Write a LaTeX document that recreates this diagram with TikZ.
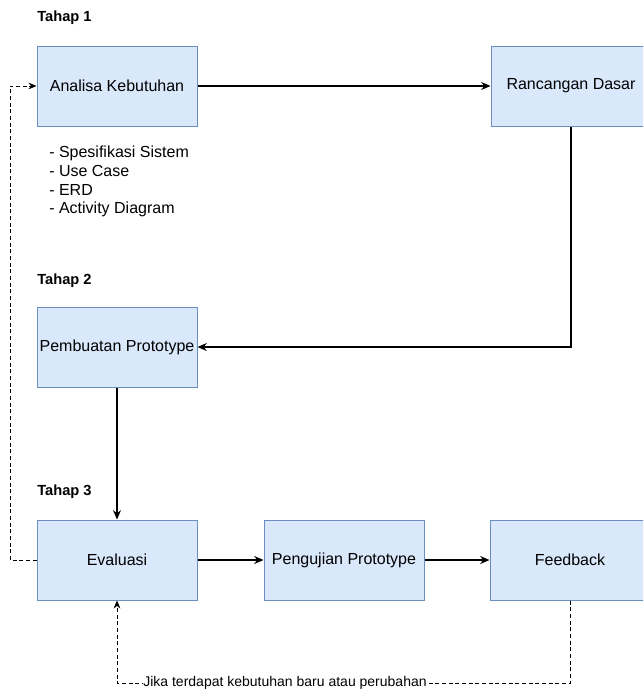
\documentclass[tikz,border=0pt]{standalone}
\usepackage{fontspec}
\setmainfont{Liberation Sans}
\usetikzlibrary{arrows.meta}
\definecolor{boxfill}{HTML}{DAE8FC}
\definecolor{boxdraw}{HTML}{6C8EBF}
\begin{document}
\begin{tikzpicture}[x=0.75pt,y=-0.75pt,
  stepbox/.style={draw=boxdraw, fill=boxfill, minimum width=120pt, minimum height=60pt, inner sep=0pt, font=\fontsize{12}{14}\selectfont, line width=0.75pt},
  phase/.style={font=\bfseries\fontsize{11}{13}\selectfont, anchor=west, inner sep=0pt},
  flow/.style={line width=0.9pt, -{Stealth[length=7pt,width=6pt]}},
  back/.style={line width=0.6pt, dash pattern=on 3pt off 2pt, -{Stealth[length=6pt,width=5pt]}}
]
\useasboundingbox (0,0) rectangle (643,689);
\fill[white] (0,0) rectangle (643,689);
\begin{scope}
\clip (0,0) rectangle (643,689);
\node[phase] (t1) at (37,18) {Tahap 1};
\node[phase] (t2) at (37,281) {Tahap 2};
\node[phase] (t3) at (37,492) {Tahap 3};

\node[stepbox] (analisa) at (117,86) {Analisa Kebutuhan};
\node[stepbox] (rancangan) at (571,86) {Rancangan Dasar};
\node[stepbox] (pembuatan) at (117,347) {Pembuatan Prototype};
\node[stepbox] (evaluasi) at (117,560) {Evaluasi};
\node[stepbox] (pengujian) at (344,560) {Pengujian Prototype};
\node[stepbox] (feedback) at (570,560) {Feedback};

\node[anchor=north west, inner sep=0pt, align=left, font=\fontsize{12}{14}\selectfont] (list) at (49,146)
  {- Spesifikasi Sistem\\- Use Case\\- ERD\\- Activity Diagram};

\draw[flow] (analisa.east) -- (rancangan.west);
\draw[flow] (rancangan.south) |- (pembuatan.east);
\draw[flow] (pembuatan.south) -- (evaluasi.north);
\draw[flow] (evaluasi.east) -- (pengujian.west);
\draw[flow] (pengujian.east) -- (feedback.west);

\coordinate (lb) at (10,560);
\coordinate (lt) at (10,86);
\draw[back] (evaluasi.west) -- (lb) -- (lt) -- (analisa.west);

\coordinate (fb) at (570,683);
\coordinate (eb) at (117,683);
\draw[back] (feedback.south) -- (fb) -- (eb) -- (evaluasi.south);
\node[fill=white, inner sep=0.5pt, font=\fontsize{10.5}{12}\selectfont] (cond) at (285,683) {Jika terdapat kebutuhan baru atau perubahan};
\end{scope}
\end{tikzpicture}
\end{document}
